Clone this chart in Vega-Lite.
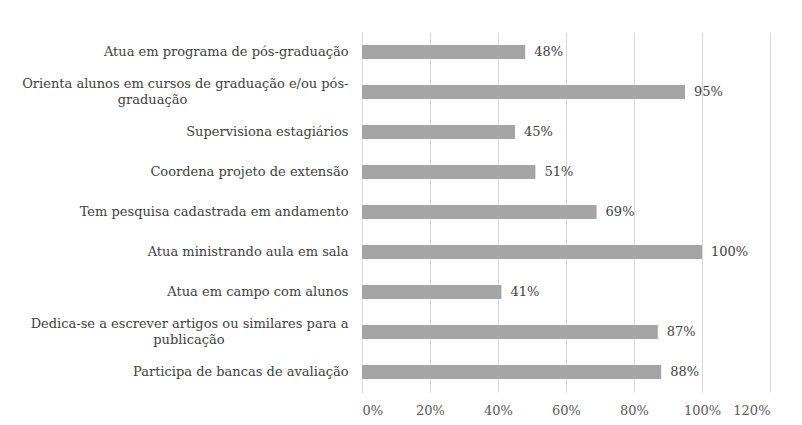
{
  "$schema": "https://vega.github.io/schema/vega-lite/v6.json",
  "width": 408,
  "height": 360,
  "autosize": {"type": "none"},
  "padding": {"left": 362, "top": 32, "right": 32, "bottom": 33},
  "background": "white",
  "data": {
    "values": [
      {"item": "Atua em programa de pós-graduação", "value": 0.48},
      {"item": "Orienta alunos em cursos de graduação e/ou pós-graduação", "value": 0.95},
      {"item": "Supervisiona estagiários", "value": 0.45},
      {"item": "Coordena projeto de extensão", "value": 0.51},
      {"item": "Tem pesquisa cadastrada em andamento", "value": 0.69},
      {"item": "Atua ministrando aula em sala", "value": 1.0},
      {"item": "Atua em campo com alunos", "value": 0.41},
      {"item": "Dedica-se a escrever artigos ou similares para a publicação", "value": 0.87},
      {"item": "Participa de bancas de avaliação", "value": 0.88}
    ]
  },
  "encoding": {
    "y": {
      "field": "item",
      "type": "nominal",
      "sort": null,
      "scale": {"paddingInner": 0, "paddingOuter": 0},
      "axis": {
        "title": null,
        "ticks": false,
        "domain": true,
        "domainColor": "#d9d9d9",
        "labelFont": "DejaVu Serif",
        "labelFontSize": 13,
        "labelColor": "#404040",
        "labelPadding": 14,
        "labelLimit": 400,
        "labelLineHeight": 16,
        "labelOffset": {
          "condition": {"test": "datum.value == 'Orienta alunos em cursos de graduação e/ou pós-graduação' || datum.value == 'Dedica-se a escrever artigos ou similares para a publicação'", "value": -8},
          "value": 0
        },
        "labelExpr": "datum.value == 'Orienta alunos em cursos de graduação e/ou pós-graduação' ? ['Orienta alunos em cursos de graduação e/ou pós-', pad('graduação', 48, '\u00a0') + '\u200b'] : datum.value == 'Dedica-se a escrever artigos ou similares para a publicação' ? ['Dedica-se a escrever artigos ou similares para a', pad('publicação', 40, '\u00a0') + '\u200b'] : datum.value"
      }
    }
  },
  "layer": [
    {
      "mark": {"type": "bar", "size": 14, "color": "#a5a5a5"},
      "encoding": {
        "x": {
          "field": "value",
          "type": "quantitative",
          "scale": {"domain": [0, 1.2], "nice": false},
          "axis": {
            "title": null,
            "format": ".0%",
            "values": [0, 0.2, 0.4, 0.6, 0.8, 1.0, 1.2],
            "grid": true,
            "gridColor": "#d9d9d9",
            "ticks": false,
            "domain": false,
            "labelFont": "DejaVu Serif",
            "labelFontSize": 13,
            "labelColor": "#595959",
            "labelPadding": 12
          }
        }
      }
    },
    {
      "mark": {"type": "text", "align": "left", "dx": 9, "font": "DejaVu Serif", "fontSize": 13, "color": "#404040"},
      "encoding": {
        "x": {"field": "value", "type": "quantitative"},
        "text": {"field": "value", "type": "quantitative", "format": ".0%"}
      }
    }
  ],
  "config": {"view": {"stroke": null}}
}
